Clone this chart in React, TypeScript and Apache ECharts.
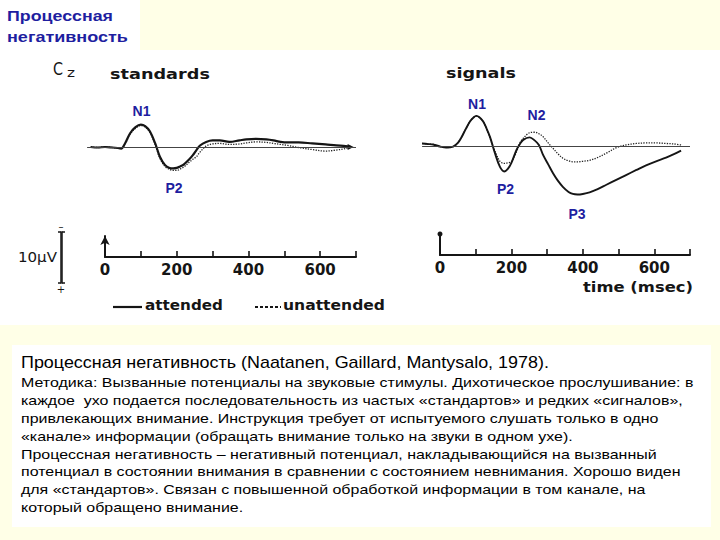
import React, { useEffect, useRef } from "react";
import * as echarts from "echarts";

// ---------- data (µV, negative up; time in ms) ----------
const STD_T = [-40, -20, 0, 20, 35, 45, 55, 70, 85, 100, 112, 125, 140, 153, 167, 180, 190, 200, 210, 220, 235, 245, 255, 265, 282, 300, 320, 347, 375, 394, 421, 450, 470, 490, 510, 540, 578, 615, 645, 671, 685];
const STD_ATTENDED = [0, 0.1, 0, 0.1, 0.2, 0.3, -0.6, -2.7, -3.9, -4.4, -4.1, -3.1, -0.7, 1.9, 3.5, 4.1, 4.2, 4.1, 3.8, 3.4, 2.4, 1.6, 0.6, -0.3, -1.0, -1.3, -1.3, -1.0, -1.3, -1.5, -1.6, -1.5, -1.3, -1.0, -0.9, -0.9, -0.7, -0.5, -0.3, -0.2, 0];
const STD_UNATTENDED = [0, 0.1, 0, 0.1, 0.2, 0.3, -0.5, -2.5, -3.7, -4.2, -3.9, -2.9, -0.4, 2.2, 3.8, 4.4, 4.6, 4.6, 4.3, 3.9, 3.0, 2.4, 1.9, 1.0, -0.2, -0.6, -0.7, -0.5, -0.6, -0.8, -1.0, -0.9, -0.7, -0.5, -0.3, 0.1, 0.5, 0.8, 0.6, 0.3, 0];

const SIG_T = [-50, -35, -19, 0, 19, 37, 50, 61, 72, 84, 94, 102, 111, 121, 130, 140, 154, 168, 180, 190, 200, 214, 223, 233, 251, 265, 277, 289, 303, 317, 330, 344, 360, 372, 385, 400, 419, 440, 466, 495, 521, 550, 577, 605, 633, 655, 675];
const SIG_ATTENDED = [-0.5, -0.4, -0.3, 0.1, 0.3, 0.1, -0.6, -1.8, -3.3, -4.8, -5.6, -5.9, -5.6, -4.8, -3.5, -1.8, 1.4, 4.1, 5.0, 4.5, 3.3, 0.8, -0.3, -1.2, -1.7, -1.1, -0.2, 1.8, 3.6, 5.4, 6.8, 8.0, 9.0, 9.4, 9.5, 9.4, 9.1, 8.5, 7.6, 6.6, 5.7, 4.7, 3.8, 3.0, 2.3, 1.6, 0.9];
const SIG_UNATTENDED = [-0.5, -0.4, -0.3, 0.1, 0.3, 0.1, -0.6, -1.8, -3.3, -4.8, -5.6, -5.9, -5.6, -4.8, -3.5, -1.6, 1.0, 3.0, 3.4, 3.3, 3.1, 1.2, -0.5, -1.5, -2.6, -2.7, -2.4, -1.8, -0.6, 0.5, 1.5, 2.4, 2.9, 3.1, 3.1, 3.0, 2.8, 2.3, 1.4, 0.3, -0.2, -0.5, -0.6, -0.6, -0.5, -0.4, -0.2];

const TIME_TICK_LABELS = ["0", "200", "400", "600"];
const SCALE_BAR_UV = 10;

const TITLE_LINES = ["Процессная", "негативность"];
const BODY_TITLE = "Процессная негативность (Naatanen, Gaillard, Mantysalo, 1978).";
const BODY_LINES = [
  "Методика: Вызванные потенциалы на звуковые стимулы. Дихотическое прослушивание: в",
  "каждое  ухо подается последовательность из частых «стандартов» и редких «сигналов»,",
  "привлекающих внимание. Инструкция требует от испытуемого слушать только в одно",
  "«канале» информации (обращать внимание только на звуки в одном ухе).",
  "Процессная негативность – негативный потенциал, накладывающийся на вызванный",
  "потенциал в состоянии внимания в сравнении с состоянием невнимания. Хорошо виден",
  "для «стандартов». Связан с повышенной обработкой информации в том канале, на",
  "который обращено внимание.",
];

// ---------- layout constants ----------
const UV_RANGE = 10; // ±10 µV in trace grids
const TRACE_H = 102; // px for 20 µV
const PX_PER_UV = TRACE_H / (2 * UV_RANGE);
const BLUE = "#1e1ea0";
const INK = "#151515";
const FIG_FONT = "'DejaVu Sans'";
const FIG_W = "bold";

function pairs(t: number[], v: number[]) {
  return t.map((x, i) => [x, v[i]]);
}

let ctx: CanvasRenderingContext2D | null = null;
function textW(text: string, font: string) {
  if (!ctx) ctx = document.createElement("canvas").getContext("2d");
  ctx!.font = font;
  return ctx!.measureText(text).width;
}

function fitted(text: string, x: number, xEnd: number, y: number, font: string, fill: string) {
  const w = textW(text, font);
  return {
    type: "text",
    x,
    y,
    scaleX: (xEnd - x) / w,
    z: 100,
    style: { text, font, fill, textAlign: "left", textVerticalAlign: "middle" },
  };
}

function plain(text: string, x: number, y: number, font: string, fill: string, align = "center") {
  return {
    type: "text",
    x,
    y,
    z: 100,
    style: { text, font, fill, textAlign: align, textVerticalAlign: "middle" },
  };
}

export default function App() {
  const ref = useRef<HTMLDivElement>(null);

  useEffect(() => {
    if (!ref.current) return;
    const chart = echarts.init(ref.current, undefined, { renderer: "svg" });

    const baseline = {
      symbol: "none",
      silent: true,
      label: { show: false },
      lineStyle: { color: "#444", width: 1, type: "solid" },
      data: [{ yAxis: 0 }],
    };

    const timeAxis = (gridIndex: number) => ({
      gridIndex,
      type: "value",
      min: 0,
      max: 700,
      interval: 100,
      position: "bottom",
      axisLine: { show: true, onZero: false, lineStyle: { color: INK, width: 2 } },
      axisTick: { show: true, inside: true, length: 6, lineStyle: { color: INK, width: 1.6 } },
      axisLabel: {
        show: true,
        margin: 5,
        color: INK,
        fontFamily: FIG_FONT,
        fontWeight: FIG_W,
        fontSize: 15,
        formatter: (v: number) => (TIME_TICK_LABELS.includes(String(v)) ? String(v) : ""),
      },
      splitLine: { show: false },
    });

    const stimAxis = (gridIndex: number, sym: string, size: number[]) => ({
      gridIndex,
      type: "value",
      min: 0,
      max: 1,
      axisLine: { show: true, onZero: false, symbol: ["none", sym], symbolSize: size, lineStyle: { color: INK, width: 2 } },
      axisTick: { show: false },
      axisLabel: { show: false },
      splitLine: { show: false },
    });

    const scaleAxis = (position: string) => ({
      gridIndex: 4,
      type: "value",
      min: 0,
      max: SCALE_BAR_UV,
      interval: SCALE_BAR_UV,
      position,
      axisLine: { show: true, onZero: false, lineStyle: { color: INK, width: 1.5 } },
      axisTick: { show: true, length: 3, lineStyle: { color: INK, width: 1.5 } },
      axisLabel: { show: false },
      splitLine: { show: false },
    });

    const lastStd = STD_T.length - 1;

    const bodyFont = "13px 'Liberation Sans'";
    const bodyScale = (694 - 21) / textW(BODY_LINES[0], bodyFont);
    const bodyY0 = 382.7;
    const bodyStep = 17.85;
    const figFont = (s: number) => `${FIG_W} ${s}px ${FIG_FONT}`;

    const graphics: any[] = [
      { type: "rect", z: -10, shape: { x: 0, y: 0, width: 140, height: 50 }, style: { fill: "#ffffff" } },
      { type: "rect", z: -10, shape: { x: 0, y: 50, width: 720, height: 275 }, style: { fill: "#ffffff" } },
      { type: "rect", z: -10, shape: { x: 12, y: 345, width: 699, height: 182 }, style: { fill: "#ffffff" } },
      fitted(TITLE_LINES[0], 7, 113, 15.5, "bold 15px 'Liberation Sans'", BLUE),
      fitted(TITLE_LINES[1], 7, 128, 37.5, "bold 15px 'Liberation Sans'", BLUE),
      // figure texts
      fitted("C", 53, 63, 69.5, `17px ${FIG_FONT}`, INK),
      fitted("z", 67, 75, 72.5, `12px ${FIG_FONT}`, INK),
      fitted("standards", 110, 210, 74, figFont(14), INK),
      fitted("signals", 446, 516, 73, figFont(14), INK),
      fitted("time (msec)", 583, 693, 287, figFont(14), INK),
      fitted("attended", 145, 223, 305, figFont(14), INK),
      fitted("unattended", 283, 385, 305, figFont(14), INK),
      fitted("10µV", 18, 57, 257, `14px ${FIG_FONT}`, INK),
      plain("–", 61, 226.5, `10px ${FIG_FONT}`, INK),
      plain("+", 61, 289.5, `10px ${FIG_FONT}`, INK),
      { type: "line", z: 100, shape: { x1: 113, y1: 307, x2: 142, y2: 307 }, style: { stroke: INK, lineWidth: 2.2 } },
      { type: "line", z: 100, shape: { x1: 255, y1: 307, x2: 281, y2: 307 }, style: { stroke: INK, lineWidth: 2.2, lineDash: [3, 2] } },
      // peak labels
      plain("N1", 141.5, 111, "bold 14px 'Liberation Sans'", BLUE),
      plain("P2", 174, 188, "bold 14px 'Liberation Sans'", BLUE),
      plain("N1", 477, 104, "bold 14px 'Liberation Sans'", BLUE),
      plain("N2", 536.5, 115, "bold 14px 'Liberation Sans'", BLUE),
      plain("P2", 505.5, 189, "bold 14px 'Liberation Sans'", BLUE),
      plain("P3", 577, 214, "bold 14px 'Liberation Sans'", BLUE),
      // body text
      fitted(BODY_TITLE, 21, 549, 362.6, "16px 'Liberation Sans'", "#000"),
      ...BODY_LINES.map((line, i) => ({
        type: "text",
        x: 21,
        y: bodyY0 + i * bodyStep,
        scaleX: bodyScale,
        z: 100,
        style: { text: line, font: bodyFont, fill: "#000", textAlign: "left", textVerticalAlign: "middle" },
      })),
    ];

    chart.setOption({
      animation: false,
      backgroundColor: "#ffffe7",
      grid: [
        { left: 87.1, top: 147 - TRACE_H / 2, width: 268.9, height: TRACE_H },
        { left: 422.1, top: 146 - TRACE_H / 2, width: 267.9, height: TRACE_H },
        { left: 105, top: 236, width: 251, height: 21 },
        { left: 440, top: 234, width: 250, height: 21 },
        { left: 61, top: 232, width: 1, height: SCALE_BAR_UV * PX_PER_UV },
      ],
      xAxis: [
        { gridIndex: 0, type: "value", min: -50, max: 700, show: false },
        { gridIndex: 1, type: "value", min: -50, max: 700, show: false },
        timeAxis(2),
        timeAxis(3),
        { gridIndex: 4, type: "value", min: 0, max: 1, show: false },
      ],
      yAxis: [
        { gridIndex: 0, type: "value", min: -UV_RANGE, max: UV_RANGE, inverse: true, show: false },
        { gridIndex: 1, type: "value", min: -UV_RANGE, max: UV_RANGE, inverse: true, show: false },
        stimAxis(2, "arrow", [7, 9]),
        stimAxis(3, "circle", [5, 5]),
        scaleAxis("left"),
        scaleAxis("right"),
      ],
      series: [
        {
          type: "line",
          name: "standards unattended",
          xAxisIndex: 0,
          yAxisIndex: 0,
          data: pairs(STD_T, STD_UNATTENDED),
          smooth: 0.35,
          showSymbol: false,
          lineStyle: { color: "#222", width: 1.3, type: "dotted" },
          markLine: baseline,
          z: 2,
        },
        {
          type: "line",
          name: "standards attended",
          xAxisIndex: 0,
          yAxisIndex: 0,
          data: pairs(STD_T, STD_ATTENDED),
          smooth: 0.35,
          showSymbol: true,
          showAllSymbol: true,
          symbol: (_v: any, p: any) => (p && p.dataIndex === lastStd ? "triangle" : "none"),
          symbolSize: 6,
          symbolRotate: -90,
          itemStyle: { color: INK },
          lineStyle: { color: INK, width: 2.2 },
          z: 3,
        },
        {
          type: "line",
          name: "signals unattended",
          xAxisIndex: 1,
          yAxisIndex: 1,
          data: pairs(SIG_T, SIG_UNATTENDED),
          smooth: 0.35,
          showSymbol: false,
          lineStyle: { color: "#222", width: 1.3, type: "dotted" },
          markLine: baseline,
          z: 2,
        },
        {
          type: "line",
          name: "signals attended",
          xAxisIndex: 1,
          yAxisIndex: 1,
          data: pairs(SIG_T, SIG_ATTENDED),
          smooth: 0.35,
          showSymbol: false,
          lineStyle: { color: INK, width: 1.9 },
          z: 3,
        },
      ],
      graphic: { elements: graphics },
    });

    return () => chart.dispose();
  }, []);

  return <div ref={ref} style={{ position: "absolute", left: 0, top: 0, width: 720, height: 540 }} />;
}
